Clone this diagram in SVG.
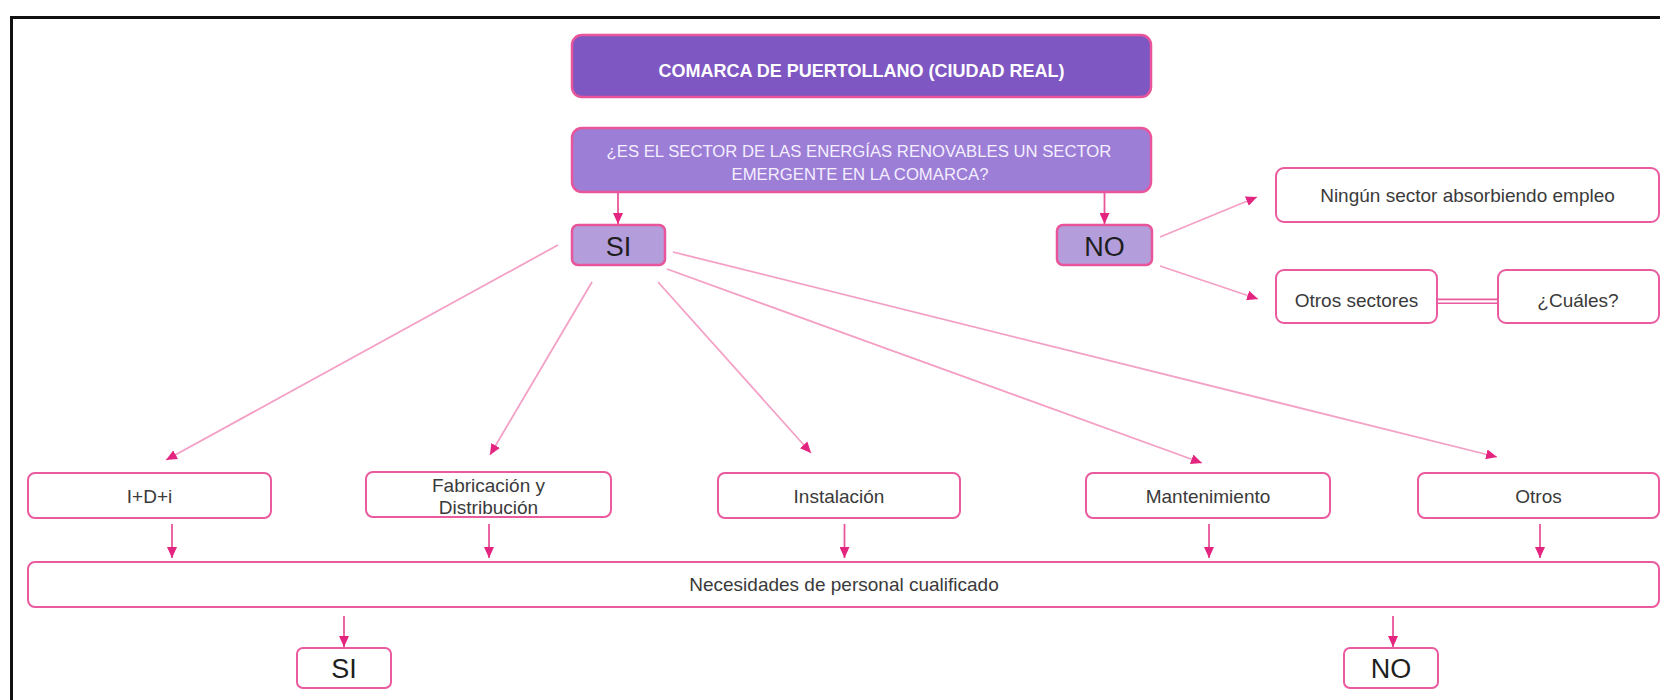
<svg xmlns="http://www.w3.org/2000/svg" width="1660" height="700" viewBox="0 0 1660 700">
<defs>
<style>
.box{fill:#ffffff;stroke:#EA5A9E;stroke-width:2}
.p1{fill:#7E57C2;stroke:#E8559A;stroke-width:2.5}
.p2{fill:#9C7ED6;stroke:#E8559A;stroke-width:2.5}
.p3{fill:#B39DDB;stroke:#E8559A;stroke-width:2.5}
.t{font-family:"Liberation Sans",Arial,sans-serif;font-size:19px;fill:#3a3a3a;text-anchor:middle}
.tb{font-family:"Liberation Sans",Arial,sans-serif;font-size:18px;font-weight:bold;fill:#ffffff;text-anchor:middle}
.tq{font-family:"Liberation Sans",Arial,sans-serif;font-size:16.7px;fill:#F4EEFF;text-anchor:middle}
.tl{font-family:"Liberation Sans",Arial,sans-serif;font-size:27px;fill:#1e1e1e;text-anchor:middle}
.diag{stroke:#F4A0C6;stroke-width:1.8;fill:none;marker-end:url(#ah)}
.vert{stroke:#E8559A;stroke-width:1.8;fill:none;marker-end:url(#ah)}
</style>
<marker id="ah" markerUnits="userSpaceOnUse" markerWidth="12" markerHeight="10" refX="11" refY="5" orient="auto">
<path d="M0,0 L11,5 L0,10 Z" fill="#E3257F"/>
</marker>
</defs>
<rect x="0" y="0" width="1660" height="700" fill="#ffffff"/>
<rect x="11.5" y="17.5" width="1700" height="720" fill="none" stroke="#111" stroke-width="3"/>

<g id="connectors">
<line class="vert" x1="618" y1="192" x2="618" y2="224"/>
<line class="vert" x1="1104.5" y1="192" x2="1104.5" y2="224"/>
<line class="diag" x1="558" y1="245" x2="166" y2="460"/>
<line class="diag" x1="592" y1="282" x2="490" y2="455"/>
<line class="diag" x1="658" y1="282" x2="811" y2="453"/>
<line class="diag" x1="667" y1="269" x2="1202" y2="463"/>
<line class="diag" x1="673" y1="252" x2="1497" y2="457"/>
<line class="diag" x1="1160" y1="237" x2="1257" y2="197"/>
<line class="diag" x1="1160" y1="266" x2="1258" y2="299"/>
<line x1="1438" y1="301.3" x2="1498" y2="301.3" stroke="#EA5A9E" stroke-width="5.5"/>
<line x1="1437" y1="301.3" x2="1499" y2="301.3" stroke="#ffffff" stroke-width="2.2"/>
<line class="vert" x1="172" y1="524" x2="172" y2="558"/>
<line class="vert" x1="489" y1="524" x2="489" y2="558"/>
<line class="vert" x1="844.5" y1="524" x2="844.5" y2="558"/>
<line class="vert" x1="1209" y1="524" x2="1209" y2="558"/>
<line class="vert" x1="1540" y1="524" x2="1540" y2="558"/>
<line class="vert" x1="344" y1="616" x2="344" y2="647"/>
<line class="vert" x1="1393" y1="616" x2="1393" y2="647"/>
</g>

<g id="comarca">
<rect class="p1" x="572" y="35" width="579" height="62" rx="10"/>
<text class="tb" x="861.5" y="77">COMARCA DE PUERTOLLANO (CIUDAD REAL)</text>
</g>
<g id="pregunta">
<rect class="p2" x="572" y="128" width="579" height="64" rx="10"/>
<text class="tq" x="859" y="157">¿ES EL SECTOR DE LAS ENERGÍAS RENOVABLES UN SECTOR</text>
<text class="tq" x="860" y="180">EMERGENTE EN LA COMARCA?</text>
</g>
<g id="si-top">
<rect class="p3" x="572" y="225" width="93" height="40" rx="6"/>
<text class="tl" x="618.5" y="256">SI</text>
</g>
<g id="no-top">
<rect class="p3" x="1057" y="225" width="95" height="40" rx="6"/>
<text class="tl" x="1104.5" y="256">NO</text>
</g>
<g id="ningun">
<rect class="box" x="1276" y="168" width="383" height="54" rx="8"/>
<text class="t" x="1467.5" y="202">Ningún sector absorbiendo empleo</text>
</g>
<g id="otros-sectores">
<rect class="box" x="1276" y="270" width="161" height="53" rx="8"/>
<text class="t" x="1356.5" y="307">Otros sectores</text>
</g>
<g id="cuales">
<rect class="box" x="1498" y="270" width="161" height="53" rx="8"/>
<text class="t" x="1578" y="307">¿Cuáles?</text>
</g>
<g id="idi">
<rect class="box" x="28" y="473" width="243" height="45" rx="7"/>
<text class="t" x="149.5" y="502.5">I+D+i</text>
</g>
<g id="fabricacion">
<rect class="box" x="366" y="472" width="245" height="45" rx="7"/>
<text class="t" x="488.5" y="492">Fabricación y</text>
<text class="t" x="488.5" y="514">Distribución</text>
</g>
<g id="instalacion">
<rect class="box" x="718" y="473" width="242" height="45" rx="7"/>
<text class="t" x="839" y="502.5">Instalación</text>
</g>
<g id="mantenimiento">
<rect class="box" x="1086" y="473" width="244" height="45" rx="7"/>
<text class="t" x="1208" y="502.5">Mantenimiento</text>
</g>
<g id="otros">
<rect class="box" x="1418" y="473" width="241" height="45" rx="7"/>
<text class="t" x="1538.5" y="502.5">Otros</text>
</g>
<g id="necesidades">
<rect class="box" x="28" y="562" width="1631" height="45" rx="7"/>
<text class="t" x="844" y="591">Necesidades de personal cualificado</text>
</g>
<g id="si-bottom">
<rect class="box" x="297" y="648" width="94" height="40" rx="6"/>
<text class="tl" x="344" y="678">SI</text>
</g>
<g id="no-bottom">
<rect class="box" x="1344" y="648" width="94" height="40" rx="6"/>
<text class="tl" x="1391" y="678">NO</text>
</g>
</svg>
